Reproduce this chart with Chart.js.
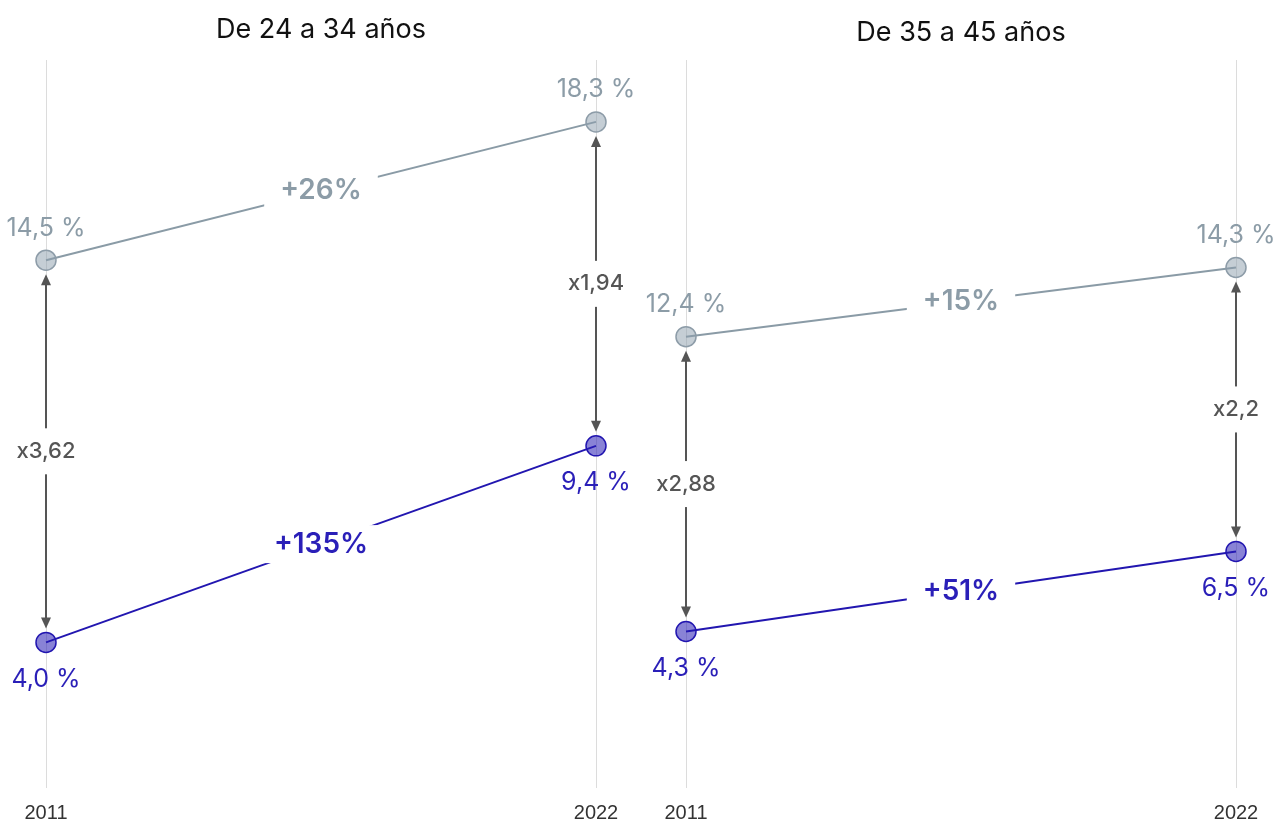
<!DOCTYPE html>
<html>
<head>
<meta charset="utf-8">
<script src="https://cdn.jsdelivr.net/npm/chart.js@4"></script>
<style>
  html, body { margin: 0; padding: 0; background: #fff; overflow: hidden; }
  #wrap { width: 1280px; height: 824px; display: flex; overflow: hidden; }
  .panel { width: 640px; height: 824px; position: relative; overflow: hidden; }
</style>
</head>
<body>
<div id="wrap">
  <div class="panel"><canvas id="left"></canvas></div>
  <div class="panel"><canvas id="right"></canvas></div>
</div>
<script>
const years = ['2011', '2022'];

const youngTitle = 'De 24 a 34 años';
const youngGray = [14.5, 18.3];
const youngBlue = [4.0, 9.4];
const youngGrayChange = '+26%';
const youngBlueChange = '+135%';
const youngRatios = ['x3,62', 'x1,94'];

const olderTitle = 'De 35 a 45 años';
const olderGray = [12.4, 14.3];
const olderBlue = [4.3, 6.5];
const olderGrayChange = '+15%';
const olderBlueChange = '+51%';
const olderRatios = ['x2,88', 'x2,2'];

const grayLine = '#8a9ba6';
const grayText = '#8c9ca7';
const blueLine = '#2216b0';
const blueText = '#2a1fb8';
const arrowColor = '#555555';

function fmt(v) {
  return v.toFixed(1).replace('.', ',') + ' %';
}

function labelBox(ctx, text, x, y, font, color, padX, padY) {
  ctx.font = font;
  const w = ctx.measureText(text).width;
  ctx.fillStyle = '#fff';
  ctx.fillRect(x - w / 2 - padX, y - 13 - padY, w + padX * 2, 26 + padY * 2);
  ctx.fillStyle = color;
  ctx.fillText(text, x, y);
}

function arrowHead(ctx, x, y, dir) {
  // dir = -1 points up, 1 points down
  ctx.beginPath();
  ctx.moveTo(x, y);
  ctx.lineTo(x - 5, y - dir * 11);
  ctx.lineTo(x + 5, y - dir * 11);
  ctx.closePath();
  ctx.fill();
}

const annotations = {
  id: 'annotations',
  afterDatasetsDraw(chart, args, opts) {
    const ctx = chart.ctx;
    const xs = chart.scales.x, ys = chart.scales.y;
    const gray = chart.data.datasets[0].data;
    const blue = chart.data.datasets[1].data;
    ctx.save();
    ctx.textAlign = 'center';
    ctx.textBaseline = 'middle';

    // arrows between the two series
    for (let i = 0; i < gray.length; i++) {
      const x = xs.getPixelForValue(i);
      const y1 = ys.getPixelForValue(gray[i]) + 14;
      const y2 = ys.getPixelForValue(blue[i]) - 14;
      ctx.strokeStyle = arrowColor;
      ctx.fillStyle = arrowColor;
      ctx.lineWidth = 2;
      ctx.beginPath();
      ctx.moveTo(x, y1 + 6);
      ctx.lineTo(x, y2 - 6);
      ctx.stroke();
      arrowHead(ctx, x, y1, -1);
      arrowHead(ctx, x, y2, 1);
      labelBox(ctx, opts.ratios[i], x, (y1 + y2) / 2, '500 22px Inter', arrowColor, 4, 10);
    }

    // value labels
    for (let i = 0; i < gray.length; i++) {
      const x = xs.getPixelForValue(i);
      ctx.font = '25px Inter';
      ctx.fillStyle = grayText;
      ctx.fillText(fmt(gray[i]), x, ys.getPixelForValue(gray[i]) - 32);
      ctx.fillStyle = blueText;
      ctx.fillText(fmt(blue[i]), x, ys.getPixelForValue(blue[i]) + 37);
    }

    // change labels at the middle of each line
    const mx = (xs.getPixelForValue(0) + xs.getPixelForValue(1)) / 2;
    const gy = (ys.getPixelForValue(gray[0]) + ys.getPixelForValue(gray[1])) / 2;
    const by = (ys.getPixelForValue(blue[0]) + ys.getPixelForValue(blue[1])) / 2;
    labelBox(ctx, opts.grayChange, mx, gy, '600 28px Inter', grayText, 16, 6);
    labelBox(ctx, opts.blueChange, mx, by, '600 28px Inter', blueText, 16, 6);
    ctx.restore();
  }
};

function renderPanel(id, title, titleTop, grayData, blueData, grayChange, blueChange, ratios) {
  return new Chart(document.getElementById(id), {
    type: 'line',
    plugins: [annotations],
    data: {
      labels: years,
      datasets: [{
        data: grayData,
        borderColor: grayLine,
        borderWidth: 2,
        backgroundColor: 'rgba(140,158,172,0.5)',
        pointBorderColor: '#8d9ca8',
        pointBorderWidth: 1.5,
        pointRadius: 10,
        clip: false,
      }, {
        data: blueData,
        borderColor: blueLine,
        borderWidth: 2,
        backgroundColor: 'rgba(40,30,180,0.55)',
        pointBorderColor: blueLine,
        pointBorderWidth: 1.5,
        pointRadius: 10,
        clip: false,
      }]
    },
    options: {
      responsive: false,
      animation: false,
      devicePixelRatio: 1,
      layout: {
        padding: { top: 0, left: 46, right: 44, bottom: 2 }
      },
      scales: {
        x: {
          offset: false,
          grid: { color: '#dcdcdc', drawTicks: false },
          border: { display: false },
          ticks: {
            color: '#333',
            font: { family: 'Liberation Sans', size: 20 },
            padding: 13,
          }
        },
        y: {
          display: false,
          min: 0,
          max: 20,
        },
      },
      plugins: {
        legend: { display: false },
        tooltip: { enabled: false },
        title: {
          display: true,
          text: title,
          color: '#111',
          font: { family: 'Inter', size: 27, weight: 'normal', lineHeight: 1.2 },
          padding: { top: titleTop, bottom: 60 - titleTop - 32.4 },
        },
        annotations: { grayChange, blueChange, ratios },
      },
    },
  });
}

function main() {
  for (const id of ['left', 'right']) {
    const c = document.getElementById(id);
    c.width = 640;
    c.height = 840;
  }
  renderPanel('left', youngTitle, 14, youngGray, youngBlue, youngGrayChange, youngBlueChange, youngRatios);
  renderPanel('right', olderTitle, 17, olderGray, olderBlue, olderGrayChange, olderBlueChange, olderRatios);
}

document.addEventListener('DOMContentLoaded', main);
</script>
</body>
</html>
